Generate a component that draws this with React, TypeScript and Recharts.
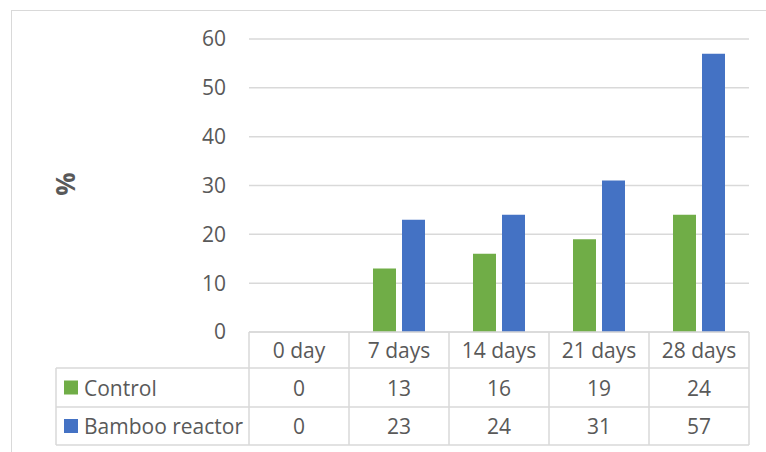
import React from 'react';
import { BarChart, Bar, XAxis, YAxis, CartesianGrid } from 'recharts';

const categories = ['0 day', '7 days', '14 days', '21 days', '28 days'];
const controlValues = [0, 13, 16, 19, 24];
const bambooValues = [0, 23, 24, 31, 57];
const yTicks = [0, 10, 20, 30, 40, 50, 60];
const seriesNames = ['Control', 'Bamboo reactor'];

const GREEN = '#70AD47';
const BLUE = '#4472C4';
const LINE = '#d9d9d9';
const TEXT = '#595959';
const FONT = '"Open Sans", "Noto Sans", sans-serif';
const FS = 21;

const data = categories.map((c, i) => ({
  name: c,
  control: controlValues[i],
  bamboo: bambooValues[i],
}));

const ROW_H = [36, 39, 38];
const LEGEND_LEFT = 56;

const TableTick = (props: any) => {
  const { x, y, payload, index } = props;
  const half = payload && payload.offset ? payload.offset : 50;
  const left = x - half;
  const right = x + half;
  const y1 = y + ROW_H[0];
  const y2 = y1 + ROW_H[1];
  const y3 = y2 + ROW_H[2];
  const isLast = index === categories.length - 1;
  const txt = { fontFamily: FONT, fontSize: FS, fill: TEXT } as any;
  return (
    <g>
      <line x1={left} y1={y} x2={left} y2={y3} stroke={LINE} strokeWidth={1.5} />
      {isLast && <line x1={right} y1={y} x2={right} y2={y3} stroke={LINE} strokeWidth={1.5} />}
      <line x1={left} y1={y1} x2={right} y2={y1} stroke={LINE} strokeWidth={1.5} />
      <line x1={left} y1={y2} x2={right} y2={y2} stroke={LINE} strokeWidth={1.5} />
      <line x1={left} y1={y3} x2={right} y2={y3} stroke={LINE} strokeWidth={1.5} />
      <text x={x} y={(y + y1) / 2} textAnchor="middle" dominantBaseline="central" {...txt}>
        {payload.value}
      </text>
      <text x={x} y={(y1 + y2) / 2} textAnchor="middle" dominantBaseline="central" {...txt}>
        {controlValues[index]}
      </text>
      <text x={x} y={(y2 + y3) / 2} textAnchor="middle" dominantBaseline="central" {...txt}>
        {bambooValues[index]}
      </text>
      {index === 0 && (
        <g>
          <line x1={LEGEND_LEFT} y1={y1} x2={left} y2={y1} stroke={LINE} strokeWidth={1.5} />
          <line x1={LEGEND_LEFT} y1={y2} x2={left} y2={y2} stroke={LINE} strokeWidth={1.5} />
          <line x1={LEGEND_LEFT} y1={y3} x2={left} y2={y3} stroke={LINE} strokeWidth={1.5} />
          <line x1={LEGEND_LEFT} y1={y1} x2={LEGEND_LEFT} y2={y3} stroke={LINE} strokeWidth={1.5} />
          <rect x={LEGEND_LEFT + 8} y={(y1 + y2) / 2 - 7} width={14} height={14} fill={GREEN} />
          <text x={LEGEND_LEFT + 28} y={(y1 + y2) / 2} dominantBaseline="central" {...txt}>
            {seriesNames[0]}
          </text>
          <rect x={LEGEND_LEFT + 8} y={(y2 + y3) / 2 - 7} width={14} height={14} fill={BLUE} />
          <text x={LEGEND_LEFT + 28} y={(y2 + y3) / 2} dominantBaseline="central" {...txt}>
            {seriesNames[1]}
          </text>
        </g>
      )}
    </g>
  );
};

const AxisTitle = () => (
  <text
    x={65}
    y={184}
    transform="rotate(-90 65 184)"
    textAnchor="middle"
    dominantBaseline="central"
    fontFamily={FONT}
    fontSize={26}
    fontWeight="bold"
    fill={TEXT}
  >
    %
  </text>
);

export default function App() {
  return (
    <div style={{ position: 'absolute', left: 0, top: 0, width: 766, height: 452, background: '#fff', overflow: 'hidden' }}>
      <div
        style={{
          position: 'absolute',
          left: 11,
          top: 10,
          width: 800,
          height: 500,
          borderLeft: `1.5px solid ${LINE}`,
          borderTop: `1.5px solid ${LINE}`,
        }}
      />
      <div style={{ position: 'absolute', left: 0, top: 0 }}>
        <BarChart
          width={766}
          height={452}
          data={data}
          margin={{ top: 39, right: 17, bottom: 0, left: 209 }}
          barCategoryGap="24%"
          barGap={6}
        >
          <CartesianGrid vertical={false} stroke={LINE} strokeWidth={1.5} />
          <XAxis
            dataKey="name"
            height={120}
            axisLine={{ stroke: LINE, strokeWidth: 1.5 }}
            tickLine={false}
            tickSize={0}
            tickMargin={0}
            interval={0}
            tick={<TableTick />}
          />
          <YAxis
            width={40}
            domain={[0, 60]}
            ticks={yTicks}
            axisLine={false}
            tickLine={false}
            tickSize={0}
            tickMargin={23}
            tick={{ fontFamily: FONT, fontSize: FS, fill: TEXT }}
            label={<AxisTitle />}
          />
          <Bar dataKey="control" name={seriesNames[0]} fill={GREEN} isAnimationActive={false} />
          <Bar dataKey="bamboo" name={seriesNames[1]} fill={BLUE} isAnimationActive={false} />
        </BarChart>
      </div>
    </div>
  );
}
